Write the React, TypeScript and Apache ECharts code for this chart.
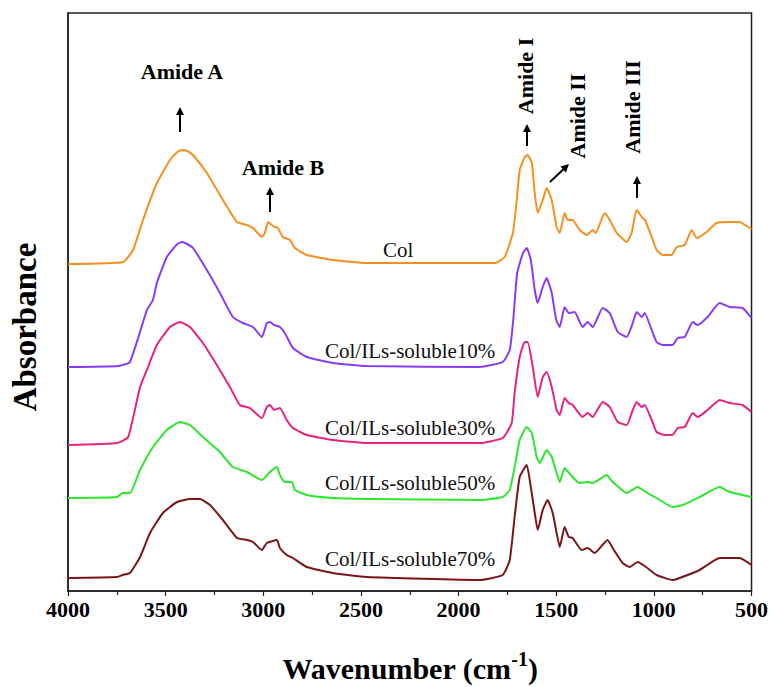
import React, { useEffect, useRef } from "react";
import * as echarts from "echarts";

// Wavenumber (cm-1), offset absorbance (arbitrary units, stacked offsets included)
const colData: [number, number][] = [
  [4000, 329], [3718, 331], [3667, 343], [3616, 373], [3545, 410], [3478, 433], [3440, 441], [3417, 443], [3390, 442], [3360, 438],
  [3289, 420], [3207, 393], [3135, 371], [3084, 368], [3053, 365], [3007, 356], [2992, 360], [2976, 371],
  [2956, 368], [2940, 366], [2925, 365], [2900, 356], [2864, 353], [2838, 345], [2777, 338], [2644, 333],
  [2470, 330], [2403, 330], [1815, 330], [1764, 336], [1722, 360], [1702, 393], [1687, 423], [1661, 436],
  [1646, 438], [1625, 430], [1610, 400], [1595, 380], [1569, 393], [1549, 405], [1523, 393], [1498, 366],
  [1482, 360], [1457, 380], [1441, 373], [1416, 373], [1380, 363], [1344, 358], [1313, 363], [1298, 360],
  [1252, 380], [1226, 373], [1190, 360], [1139, 351], [1114, 360], [1088, 383], [1058, 375], [1045, 373],
  [1011, 356], [986, 343], [955, 338], [909, 338], [883, 346], [842, 348], [806, 363], [781, 355],
  [730, 361], [679, 370], [612, 371], [561, 371], [510, 365], [500, 364],
];

const s10Data: [number, number][] = [
  [4000, 226], [3743, 227], [3683, 231], [3596, 283], [3565, 293], [3545, 310], [3494, 336], [3440, 349], [3417, 351], [3390, 349],
  [3360, 345], [3289, 323], [3222, 300], [3156, 276], [3104, 270], [3053, 266], [3007, 256], [2982, 270],
  [2966, 271], [2945, 268], [2915, 266], [2890, 260], [2848, 245], [2777, 236], [2644, 230], [2470, 227],
  [1892, 226], [1774, 231], [1738, 243], [1720, 273], [1700, 320], [1670, 340], [1651, 345], [1630, 333],
  [1610, 303], [1595, 290], [1569, 306], [1549, 315], [1523, 300], [1500, 273], [1482, 266], [1457, 286],
  [1436, 280], [1406, 281], [1365, 266], [1339, 271], [1313, 266], [1262, 285], [1226, 280], [1185, 261],
  [1139, 256], [1108, 270], [1088, 281], [1062, 276], [1047, 280], [1011, 263], [986, 251], [955, 248],
  [904, 248], [878, 255], [842, 256], [801, 271], [776, 268], [725, 276], [663, 290], [612, 286],
  [546, 285], [500, 275],
];

const s30Data: [number, number][] = [
  [4000, 148], [3749, 150], [3692, 156], [3631, 206], [3590, 226], [3545, 248], [3478, 266], [3427, 271],
  [3376, 266], [3309, 250], [3238, 228], [3171, 206], [3120, 188], [3069, 185], [3007, 175], [2982, 186],
  [2966, 188], [2945, 183], [2915, 185], [2880, 173], [2848, 165], [2777, 158], [2644, 153], [2470, 150],
  [1892, 150], [1774, 155], [1728, 170], [1713, 200], [1687, 236], [1661, 251], [1646, 251], [1620, 226],
  [1595, 196], [1569, 216], [1549, 221], [1523, 206], [1498, 183], [1482, 178], [1457, 195], [1436, 190],
  [1416, 188], [1365, 176], [1339, 180], [1313, 176], [1262, 191], [1226, 186], [1185, 171], [1139, 168],
  [1108, 183], [1088, 191], [1062, 186], [1047, 188], [1011, 173], [986, 161], [944, 158], [904, 158],
  [878, 165], [842, 166], [801, 180], [776, 176], [725, 183], [663, 193], [612, 190], [546, 188], [500, 181],
];

const s50Data: [number, number][] = [
  [4000, 95], [3749, 96], [3720, 100], [3683, 100], [3631, 123], [3565, 146], [3494, 163], [3427, 171],
  [3376, 168], [3309, 156], [3222, 141], [3156, 126], [3084, 121], [3007, 113], [2966, 121], [2930, 126],
  [2915, 118], [2890, 111], [2854, 111], [2838, 103], [2777, 98], [2644, 95], [2470, 94], [1892, 93],
  [1774, 96], [1738, 103], [1713, 126], [1687, 153], [1651, 166], [1625, 160], [1600, 136], [1584, 130],
  [1549, 143], [1523, 136], [1498, 120], [1482, 111], [1457, 125], [1426, 118], [1380, 110], [1339, 111],
  [1313, 110], [1242, 118], [1211, 111], [1139, 100], [1083, 106], [1040, 101], [986, 95], [904, 86],
  [853, 88], [766, 96], [663, 106], [612, 101], [546, 98], [500, 96],
];

const s70Data: [number, number][] = [
  [4000, 15], [3749, 16], [3720, 18], [3683, 20], [3631, 36], [3580, 60], [3514, 80], [3442, 91],
  [3376, 94], [3325, 94], [3273, 88], [3207, 73], [3135, 55], [3084, 53], [3053, 51], [3007, 43],
  [2982, 50], [2930, 53], [2915, 45], [2880, 38], [2848, 35], [2777, 26], [2644, 20], [2470, 16],
  [1892, 13], [1774, 18], [1738, 33], [1713, 76], [1687, 116], [1651, 128], [1630, 106], [1610, 80],
  [1595, 63], [1569, 83], [1544, 93], [1518, 80], [1498, 60], [1482, 46], [1457, 66], [1436, 56],
  [1416, 55], [1370, 43], [1339, 45], [1303, 40], [1237, 53], [1211, 45], [1160, 30], [1124, 26],
  [1083, 31], [1040, 26], [986, 18], [904, 13], [868, 15], [766, 23], [663, 35], [561, 35], [500, 28],
];

const seriesNames = ["Col", "Col/ILs-soluble10%", "Col/ILs-soluble30%", "Col/ILs-soluble50%", "Col/ILs-soluble70%"];
const seriesColors = ["#F7901E", "#8A3BF5", "#E6237E", "#2EE62E", "#7A1518"];
const allData = [colData, s10Data, s30Data, s50Data, s70Data];

const FONT = "'Liberation Serif', 'Times New Roman', serif";

function arrow(x1: number, y1: number, x2: number, y2: number) {
  const ang = Math.atan2(y2 - y1, x2 - x1);
  const hl = 8, hw = 4;
  const bx = x2 - hl * Math.cos(ang), by = y2 - hl * Math.sin(ang);
  const px = -Math.sin(ang) * hw, py = Math.cos(ang) * hw;
  return [
    { type: "line", shape: { x1, y1, x2: bx, y2: by }, style: { stroke: "#000", lineWidth: 2 } },
    {
      type: "polygon",
      shape: { points: [[x2, y2], [bx + px, by + py], [bx - px, by - py]] },
      style: { fill: "#000" },
    },
  ];
}

export default function App() {
  const ref = useRef<HTMLDivElement>(null);
  useEffect(() => {
    if (!ref.current) return;
    const chart = echarts.init(ref.current, undefined, { renderer: "svg" });
    const labelPos = [
      [383, 250], [325, 351], [325, 428], [325, 483], [325, 559],
    ];
    const graphics: any[] = [];
    seriesNames.forEach((n, i) => {
      graphics.push({
        type: "text", x: labelPos[i][0], y: labelPos[i][1],
        style: { text: n, font: `21px ${FONT}`, fill: "#111", align: "left", verticalAlign: "middle" },
      });
    });
    const bold = (t: string, x: number, y: number, rot = 0, size = 22) => ({
      type: "text", x, y, rotation: rot,
      style: { text: t, font: `bold ${size}px ${FONT}`, fill: "#000", align: "center", verticalAlign: "middle" },
    });
    graphics.push(bold("Amide A", 182, 71));
    graphics.push(bold("Amide B", 283, 167));
    graphics.push(bold("Amide I", 525, 76, Math.PI / 2));
    graphics.push(bold("Amide II", 577, 116, Math.PI / 2));
    graphics.push(bold("Amide III", 632, 107, Math.PI / 2));
    graphics.push(...arrow(180, 132, 180, 107));
    graphics.push(...arrow(270, 212, 270, 187));
    graphics.push(...arrow(527, 146, 527, 124));
    graphics.push(...arrow(550, 182, 569, 164));
    graphics.push(...arrow(637, 198, 637, 176));
    graphics.push(bold("Absorbance", 25, 327, Math.PI / 2, 33));
    graphics.push({
      type: "text", x: 410, y: 668,
      style: {
        text: "Wavenumber (cm{sup|-1})",
        font: `bold 30px ${FONT}`, fill: "#000", align: "center", verticalAlign: "middle",
        rich: { sup: { font: `bold 20px ${FONT}`, fill: "#000", verticalAlign: "bottom", padding: [0, 0, 18, 0] } },
      },
    });

    chart.setOption({
      animation: false,
      grid: { left: 68, right: 19, top: 13, bottom: 96, show: true, borderColor: "#222", borderWidth: 1.5 },
      xAxis: {
        type: "value", min: 500, max: 4000, interval: 500, inverse: true,
        axisLine: { show: true, lineStyle: { color: "#222", width: 1.5 } },
        axisTick: { show: true, inside: false, length: 5, lineStyle: { color: "#222", width: 1.2 } },
        minorTick: { show: true, splitNumber: 2, length: 4, lineStyle: { color: "#222", width: 1.2 } },
        splitLine: { show: false },
        axisLabel: {
          color: "#000", fontFamily: FONT, fontWeight: "bold", fontSize: 22, margin: 7,
          formatter: (v: number) => String(v),
        },
      },
      yAxis: {
        type: "value", min: 2, max: 580,
        axisLine: { show: true, lineStyle: { color: "#222", width: 1.5 } },
        axisTick: { show: false }, axisLabel: { show: false }, splitLine: { show: false },
      },
      series: allData.map((d, i) => ({
        type: "line", name: seriesNames[i], data: d, showSymbol: false, smooth: 0.15,
        lineStyle: { color: seriesColors[i], width: 2 }, itemStyle: { color: seriesColors[i] },
      })),
      graphic: graphics,
    });
    return () => chart.dispose();
  }, []);
  return <div ref={ref} style={{ position: "fixed", left: 0, top: 0, width: 771, height: 687, background: "#fff" }} />;
}
